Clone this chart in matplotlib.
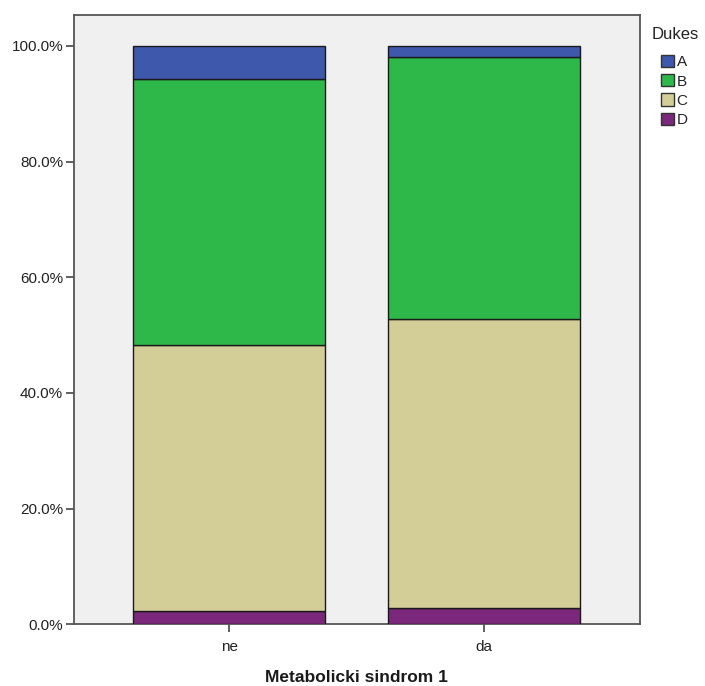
import matplotlib.pyplot as plt
import numpy as np
from matplotlib.patches import Patch
from matplotlib.ticker import FuncFormatter

plt.rcParams['font.family'] = ['Liberation Sans', 'DejaVu Sans']

groups = ['ne', 'da']
stages = ['A', 'B', 'C', 'D']
# percent within each group
pct_D = [2.3, 2.8]
pct_C = [46.0, 50.0]
pct_B = [45.9, 45.3]
pct_A = [5.8, 1.9]

colors = {'A': '#3e58ac', 'B': '#2eb84a', 'C': '#d3ce98', 'D': '#7b287c'}

fig = plt.figure(figsize=(7.05, 6.86), dpi=100)
ax = fig.add_axes([0.1043, 0.0899, 0.8035, 0.888])
ax.set_facecolor('#f0f0f0')

x = np.arange(len(groups))
w = 0.754
bottom = np.zeros(len(groups))
# draw from the bottom up: D, C, B, A
for name, vals in [('D', pct_D), ('C', pct_C), ('B', pct_B), ('A', pct_A)]:
    vals = np.array(vals)
    ax.bar(x, vals, w, bottom=bottom, color=colors[name],
           edgecolor='#1a1a1a', linewidth=1.0, zorder=3)
    bottom += vals

ax.set_xlim(-0.612, 1.612)
ax.set_ylim(0, 105.3)
ax.set_yticks([0, 20, 40, 60, 80, 100])
ax.yaxis.set_major_formatter(FuncFormatter(lambda v, p: '%.1f%%' % v))
ax.set_xticks(x)
ax.set_xticklabels(groups)
ax.tick_params(axis='both', direction='out', length=6, width=1.2,
               color='#444444', labelsize=11, labelcolor='#222222', pad=1.5)
ax.tick_params(axis='x', pad=5)
for s in ax.spines.values():
    s.set_color('#555555')
    s.set_linewidth(1.3)

ax.set_xlabel('Metabolicki sindrom 1', fontsize=12.5, fontweight='bold',
              labelpad=12, color='#1a1a1a')

# legend title placed on its own, entries indented under it
fig.text(0.924, 0.949, 'Dukes', fontsize=12, color='#222222', va='center', ha='left')
handles = [Patch(facecolor=colors[s], edgecolor='#333333', label=s) for s in stages]
leg = fig.legend(handles=handles, loc='upper left',
                 bbox_to_anchor=(0.937, 0.920), frameon=False, fontsize=11,
                 handlelength=0.85, handleheight=0.85,
                 handletextpad=0.2, labelspacing=0.32, borderpad=0.0,
                 borderaxespad=0.0)
for t in leg.get_texts():
    t.set_color('#222222')

fig.savefig('out.png', dpi=100)
